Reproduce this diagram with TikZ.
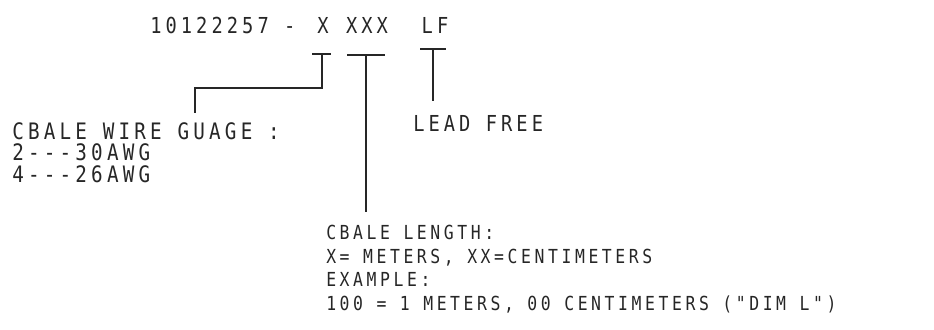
\documentclass[tikz,border=0pt]{standalone}
\usepackage{fontspec}
\newfontfamily\cadfont[LetterSpace=18.5, FakeStretch=0.85]{DejaVu Sans Mono}
\usetikzlibrary{positioning, calc}

\tikzset{
    bigtext/.style={font=\cadfont\fontsize{16.5}{16.2}\selectfont, text=black!85, inner sep=0pt, anchor=north west, align=left},
    smalltext/.style={font=\cadfont\fontsize{14.5}{17.6}\selectfont, text=black!85, inner sep=0pt, anchor=north west, align=left},
    lead/.style={line width=1.2pt, black!85}
}

\begin{document}
\begin{tikzpicture}[x=0.75pt, y=-0.75pt]
    \useasboundingbox (0,0) rectangle (934,329);

    % part number and its fields
    \node[bigtext] (pn) at (150,17) {10122257 -};
    \node[bigtext, anchor=north] (gx) at (323,17) {X};
    \node[bigtext, anchor=north] (lx) at (367,17) {XXX};
    \node[bigtext, anchor=north] (lf) at (435,17) {LF};

    % explanations
    \node[bigtext, font=\cadfont\fontsize{17}{16.2}\selectfont] (gauge) at (12,122) {CBALE WIRE GUAGE :\\2---30AWG\\4---26AWG};
    \node[bigtext] (free) at (413,115) {LEAD FREE};
    \node[smalltext] (length) at (326,225) {CBALE LENGTH:\\X= METERS, XX=CENTIMETERS\\EXAMPLE:\\100 = 1 METERS, 00 CENTIMETERS ("DIM L")};

    % T marks under the fields
    \coordinate (gxt) at (322,54);
    \coordinate (lxt) at (366,55);
    \coordinate (lft) at (433,49);
    \coordinate (gbend) at (195,88);
    \draw[lead] (gxt) +(-10,0) -- +(9,0);
    \draw[lead] (lxt) +(-19,0) -- +(19,0);
    \draw[lead] (lft) +(-13,0) -- +(13,0);

    % leaders
    \draw[lead, shorten >=7pt] (gxt) |- (gbend) -- (gbend |- gauge.north);
    \draw[lead, shorten >=9.5pt] (lxt) -- (lxt |- length.north);
    \draw[lead, shorten >=10.5pt] (lft) -- (lft |- free.north);
\end{tikzpicture}
\end{document}
